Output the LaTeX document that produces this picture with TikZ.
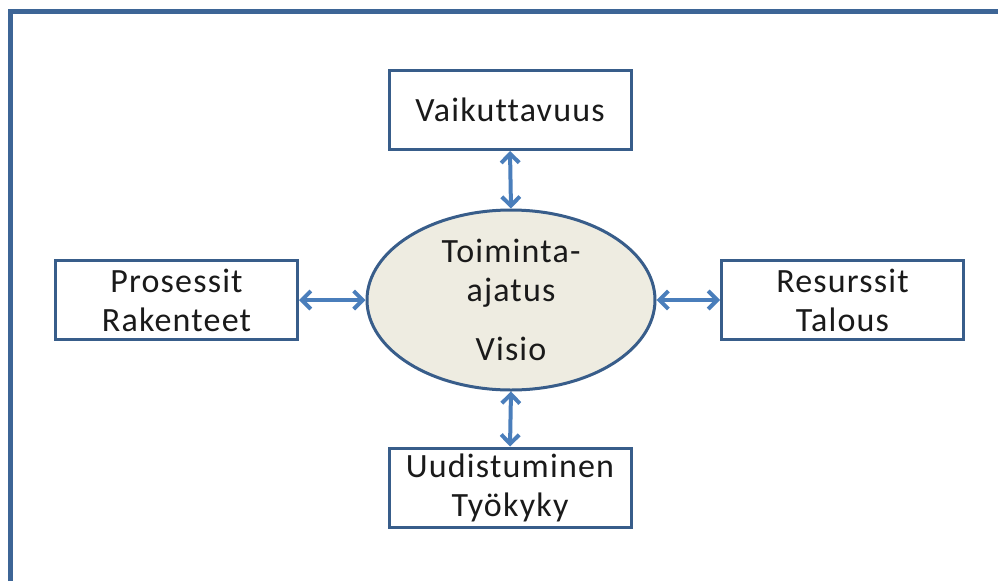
\documentclass[tikz,border=0pt]{standalone}
\usepackage{fontspec}
\setmainfont{Carlito}[LetterSpace=3.5,Ligatures={NoCommon}]
\usetikzlibrary{shapes.geometric,arrows.meta}
\definecolor{frameblue}{HTML}{3D6596}
\definecolor{outline}{HTML}{385D8A}
\definecolor{connblue}{HTML}{4A7EBB}
\definecolor{tan}{HTML}{EEECE1}
\definecolor{ink}{HTML}{1A1A1A}
\tikzset{
  labelbox/.style={draw=outline, line width=3pt, fill=white, minimum width=242pt,
    minimum height=79pt, align=center, text=ink, font=\fontsize{34}{39}\selectfont,
    inner sep=0pt},
  hub/.style={ellipse, draw=outline, line width=3pt, fill=tan, minimum width=288pt,
    minimum height=180pt, align=center, text=ink, font=\fontsize{34}{39}\selectfont,
    inner sep=0pt},
  conn/.style={draw=connblue, line width=4pt,
    {Straight Barb[length=9pt,width=18pt,line width=4pt]}-{Straight Barb[length=9pt,width=18pt,line width=4pt]}},
  frameline/.style={draw=frameblue, line width=5pt}
}
\begin{document}
\begin{tikzpicture}[x=1pt,y=-1pt]
  \useasboundingbox (0,0) rectangle (998,581);
  % outer frame, only its top and left edges are visible
  \draw[frameline] (10.3,581) -- (10.3,11.5) -- (998,11.5);

  % central ellipse
  \node[hub] (hub) at (511,300) {Toiminta-\\ajatus\\[20pt]Visio};

  % surrounding boxes
  \node[labelbox] (top) at (510,110) {Vaikuttavuus};
  \node[labelbox] (bottom) at (510,487.5) {Uudistuminen\\Työkyky};
  \node[labelbox] (left) at (176.5,300) {Prosessit\\Rakenteet};
  \node[labelbox] (right) at (842.5,300) {Resurssit\\Talous};

  % two-way connectors
  \draw[conn] (top.south) -- (hub.north);
  \draw[conn] (hub.south) -- (bottom.north);
  \draw[conn] (left.east) -- (hub.west);
  \draw[conn] (hub.east) -- (right.west);
\end{tikzpicture}
\end{document}
